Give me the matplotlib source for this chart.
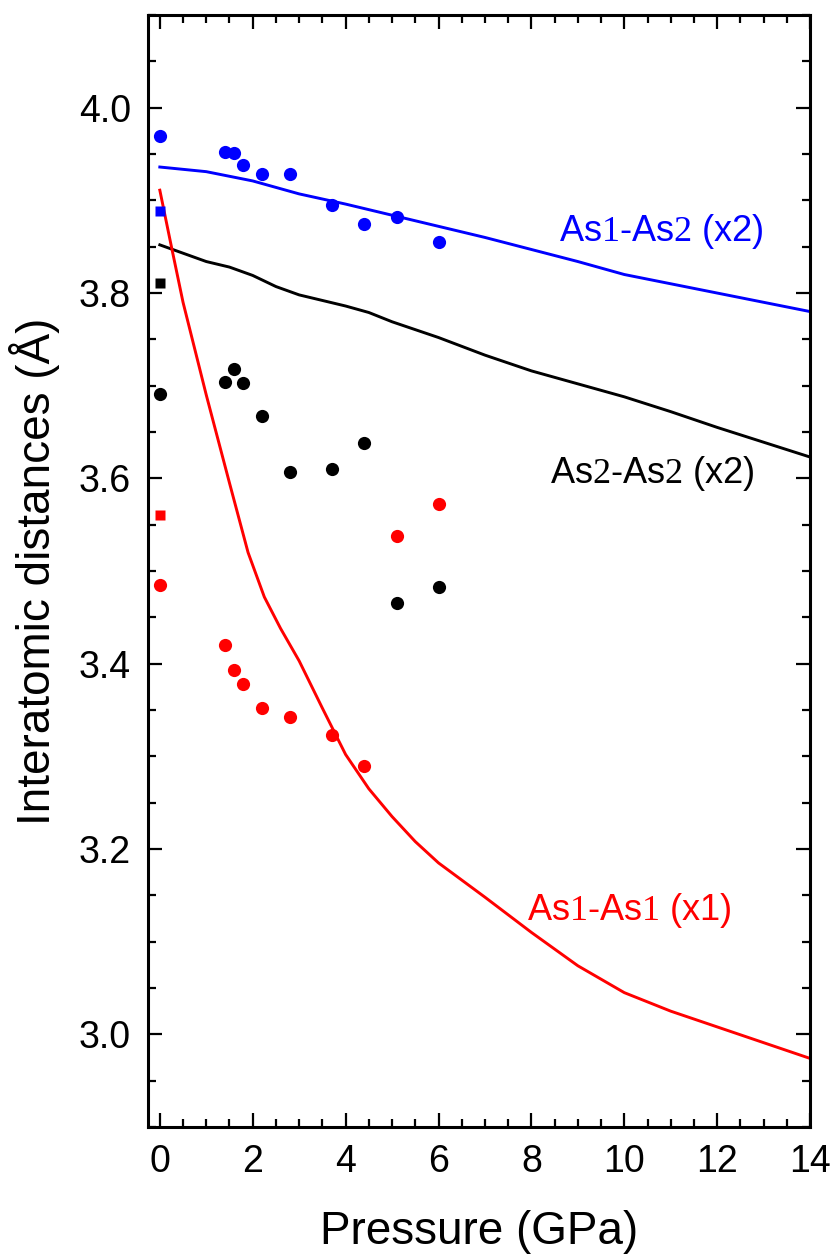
import numpy as np
import matplotlib
matplotlib.use("Agg")
import matplotlib.pyplot as plt
from matplotlib.ticker import MultipleLocator

plt.rcParams['font.family'] = ['Liberation Sans', 'DejaVu Sans']
plt.rcParams['mathtext.fontset'] = 'custom'
plt.rcParams['mathtext.rm'] = 'Liberation Serif'

# experimental points (pressure in GPa, distance in Angstrom)
p_exp = [0.0, 1.4, 1.6, 1.8, 2.2, 2.8, 3.7, 4.4, 5.1, 6.0]
d12_exp = [3.970, 3.952, 3.951, 3.938, 3.928, 3.928, 3.895, 3.875, 3.882, 3.855]
d22_exp = [3.691, 3.704, 3.718, 3.703, 3.667, 3.607, 3.610, 3.638, 3.465, 3.483]
d11_exp = [3.485, 3.420, 3.393, 3.378, 3.352, 3.343, 3.323, 3.290, 3.538, 3.572]

# squares at ambient pressure
sq_p = [0.0]
sq12 = [3.889]
sq22 = [3.811]
sq11 = [3.560]

# calculated curves
p_calc = [0, 1, 2, 3, 4, 5, 6, 7, 8, 9, 10, 11, 12, 13, 14]
d12_calc = [3.936, 3.931, 3.921, 3.907, 3.896, 3.884, 3.872, 3.860, 3.847, 3.834,
            3.820, 3.810, 3.800, 3.790, 3.780]
p_calc22 = [0, 1, 1.5, 2, 2.5, 3, 4, 4.5, 5, 6, 7, 8, 9, 10, 11, 12, 13, 14]
d22_calc = [3.852, 3.834, 3.828, 3.819, 3.807, 3.798, 3.786, 3.779, 3.769, 3.752,
            3.733, 3.716, 3.702, 3.688, 3.672, 3.655, 3.639, 3.623]
p_calc11 = [0, 0.25, 0.5, 0.75, 1.0, 1.5, 1.9, 2.25, 2.6, 3.0, 3.5, 4.0, 4.5, 5.0,
            5.5, 6.0, 7, 8, 9, 10, 11, 12, 13, 14]
d11_calc = [3.911, 3.850, 3.790, 3.740, 3.690, 3.595, 3.520, 3.472, 3.438, 3.403,
            3.352, 3.302, 3.265, 3.235, 3.208, 3.185, 3.148, 3.110, 3.074, 3.045,
            3.025, 3.008, 2.991, 2.974]

fig = plt.figure(figsize=(8.3, 12.55), dpi=100)
ax = fig.add_axes([0.178, 0.102, 0.798, 0.886])

ax.plot(p_calc, d12_calc, color='#0000ff', lw=2.1)
ax.plot(p_calc22, d22_calc, color='black', lw=2.1)
ax.plot(p_calc11, d11_calc, color='#ff0000', lw=2.1)

ax.plot(p_exp, d12_exp, 'o', color='#0000ff', ms=9.5, mec='none')
ax.plot(p_exp, d22_exp, 'o', color='black', ms=9.5, mec='none')
ax.plot(p_exp, d11_exp, 'o', color='#ff0000', ms=9.5, mec='none')
ax.plot(sq_p, sq12, 's', color='#0000ff', ms=7.5, mec='none')
ax.plot(sq_p, sq22, 's', color='black', ms=7.5, mec='none')
ax.plot(sq_p, sq11, 's', color='#ff0000', ms=7.5, mec='none')

ax.text(10.8, 3.866, r'As$\mathrm{1}$-As$\mathrm{2}$ (x2)', color='#0000ff',
        fontsize=26, ha='center', va='center')
ax.text(10.6, 3.605, r'As$\mathrm{2}$-As$\mathrm{2}$ (x2)', color='black',
        fontsize=26, ha='center', va='center')
ax.text(10.1, 3.134, r'As$\mathrm{1}$-As$\mathrm{1}$ (x1)', color='#ff0000',
        fontsize=26, ha='center', va='center')

ax.set_xlim(-0.26, 14)
ax.set_ylim(2.9, 4.1)
ax.xaxis.set_major_locator(MultipleLocator(2))
ax.xaxis.set_minor_locator(MultipleLocator(0.5))
ax.yaxis.set_minor_locator(MultipleLocator(0.05))
ax.set_yticks([3.0, 3.2, 3.4, 3.6, 3.8, 4.0])
ax.set_yticklabels(['3.0', '3.2', '3.4', '3.6', '3.8', '4.0'])

ax.tick_params(which='both', direction='in', top=True, right=True,
               labelsize=27, width=1.6, pad=12)
ax.tick_params(which='major', length=10)
ax.tick_params(which='minor', length=6)
for s in ax.spines.values():
    s.set_linewidth(2.2)

ax.set_xlabel('Pressure (GPa)', fontsize=33)
ax.set_ylabel('Interatomic distances (Å)', fontsize=33)
ax.xaxis.set_label_coords(0.50, -0.075)
ax.yaxis.set_label_coords(-0.133, 0.50)

fig.savefig('out.png', dpi=100)
